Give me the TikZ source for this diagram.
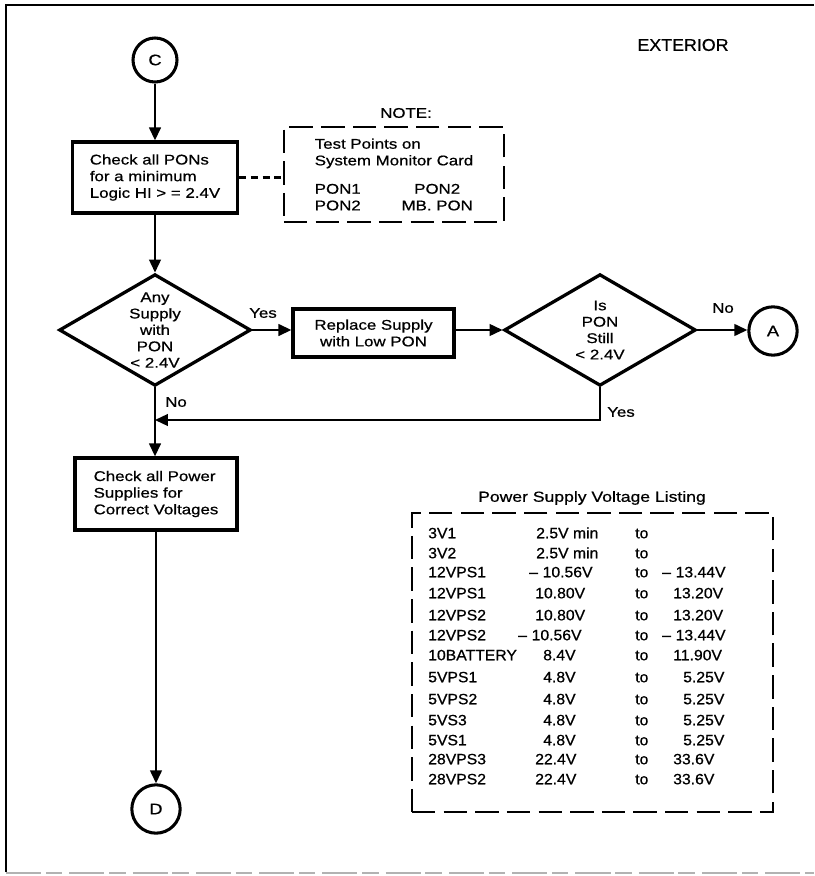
\documentclass[tikz,border=0pt]{standalone}
\usepackage{fontspec}
\setmainfont{Liberation Sans}[FakeStretch=1.2, FakeBold=0.7]
\newfontfamily\tabfont{Liberation Sans}[FakeStretch=1.05, FakeBold=0.7, Ligatures=TeX]
\usetikzlibrary{arrows.meta, shapes.geometric, calc}

\tikzset{
  box/.style={draw, line width=2.8pt, inner sep=0pt, align=left, font=\fontsize{12}{14.2}\selectfont},
  decision/.style={draw, diamond, aspect=1.7, line width=2.8pt, inner sep=0pt, align=center,
    minimum width=5.75cm, minimum height=3.35cm, font=\fontsize{12}{14}\selectfont},
  conn/.style={draw, circle, line width=2.6pt, minimum size=1.45cm, inner sep=0pt, font=\fontsize{13}{15}\selectfont},
  notebox/.style={draw, line width=2.5pt, dash pattern=on 20pt off 7pt, inner sep=0pt},
  flow/.style={line width=1.6pt, -{Triangle[length=11pt, width=10pt]}},
  lbl/.style={font=\fontsize{12}{14}\selectfont, inner sep=0pt},
  tabtxt/.style={anchor=west, inner sep=0pt, text height=9pt, text depth=0pt, font=\tabfont\fontsize{12.8}{15}\selectfont}
}

\begin{document}
\begin{tikzpicture}[x=0.03cm, y=-0.03cm]
  \useasboundingbox (0,0) rectangle (814,876);
  % Frame
  \draw[line width=1.8pt] (6,872) -- (6,5) -- (814,5);
  \draw[gray!60, line width=1pt, dash pattern=on 30pt off 4pt on 14pt off 6pt] (6,873) -- (814,873);
  \node[font=\tabfont\fontsize{14.5}{16}\selectfont, inner sep=0pt] (ext) at (683,45) {EXTERIOR};

  % Main column
  \node[conn, minimum size=1.32cm] (C) at (155,60) {C};
  \node[box, minimum width=4.95cm, minimum height=2.13cm] (chkpon) at (155,177.5)
    {Check all PONs\\for a minimum\\Logic HI > = 2.4V};
  \node[decision] (anysup) at (155,330) {Any\\Supply\\with\\PON\\< 2.4V};
  \node[box, align=center, minimum width=4.83cm, minimum height=1.44cm] (replace) at (373.5,333)
    {Replace Supply\\with Low PON};
  \node[decision] (still) at (600,330) {Is\\PON\\Still\\< 2.4V};
  \node[conn] (A) at (773,331) {A};
  \node[box, minimum width=4.86cm, minimum height=2.16cm] (chkvolt) at (156,494)
    {Check all Power\\Supplies for\\Correct Voltages};
  \node[conn] (D) at (156,809) {D};

  % Note box
  \node[lbl] (notehd) at (406,113) {NOTE:};
  \node[notebox, minimum width=6.6cm, minimum height=2.85cm, align=left,
        font=\fontsize{12}{14.2}\selectfont] (note) at (394,174.5)
    {Test Points on\\System Monitor Card\\[10pt]
     \makebox[74pt][l]{PON1}\makebox[61pt][c]{PON2}\\
     \makebox[74pt][l]{PON2}\makebox[61pt][c]{MB. PON}};

  % Connectors
  \draw[flow] (C.south) -- (chkpon.north);
  \draw[line width=2.5pt, dash pattern=on 6pt off 4pt] (chkpon.east) -- (chkpon.east -| note.west);
  \draw[flow] (chkpon.south) -- (anysup.north);
  \draw[flow] (anysup.east) -- (anysup.east -| replace.west);
  \draw[flow] (replace.east |- still.west) -- (still.west);
  \draw[flow] (still.east) -- (still.east -| A.west);
  \coordinate (join) at (155,420);
  \draw[flow] (still.south) |- (join);
  \draw[flow] (anysup.south) -- (anysup.south |- chkvolt.north);
  \draw[flow] (chkvolt.south -| D.north) -- (D.north);

  % Branch labels
  \node[lbl] (yes1) at (263,313) {Yes};
  \node[lbl] (no1) at (176,402) {No};
  \node[lbl] (no2) at (723,308) {No};
  \node[lbl] (yes2) at (621,412) {Yes};

  % Voltage listing
  \node[font=\fontsize{12.5}{15}\selectfont, inner sep=0pt] (lsthd) at (592,498) {Power Supply Voltage Listing};
  \node[notebox, minimum width=10.83cm, minimum height=8.97cm] (lst) at (592.5,662.5) {};
  \foreach \ry/\nm/\vx/\vl/\ex/\en [count=\i] in {
    533/3V1/536/2.5V min/673/{},
    553/3V2/536/2.5V min/673/{},
    572/12VPS1/529/--\hspace{4pt}10.56V/662/--\hspace{4pt}13.44V,
    593/12VPS1/535/10.80V/673/13.20V,
    615/12VPS2/535/10.80V/673/13.20V,
    635/12VPS2/518/--\hspace{4pt}10.56V/662/--\hspace{4pt}13.44V,
    655/10BATTERY/543/8.4V/673/11.90V,
    677/5VPS1/543/4.8V/683/5.25V,
    699/5VPS2/543/4.8V/683/5.25V,
    720/5VS3/543/4.8V/683/5.25V,
    740/5VS1/543/4.8V/683/5.25V,
    759/28VPS3/535/22.4V/673/33.6V,
    779/28VPS2/535/22.4V/673/33.6V}{
    \node[tabtxt] (nm\i) at (428,\ry) {\nm};
    \node[tabtxt] (vl\i) at (\vx,\ry) {\vl};
    \node[tabtxt] (to\i) at (635,\ry) {to};
    \node[tabtxt] (en\i) at (\ex,\ry) {\en};
  }
\end{tikzpicture}
\end{document}
